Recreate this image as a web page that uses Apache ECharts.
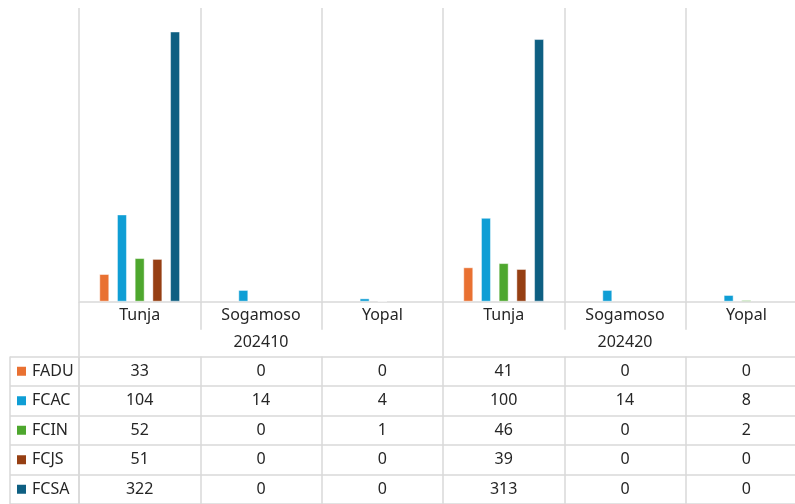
<!DOCTYPE html>
<html>
<head>
<meta charset="utf-8">
<script src="https://cdn.jsdelivr.net/npm/echarts@6/dist/echarts.min.js"></script>
<style>html,body{margin:0;padding:0;background:#fff;}#c{width:795px;height:504px;}</style>
</head>
<body>
<div id="c"></div>
<script>
const cities = ['Tunja', 'Sogamoso', 'Yopal', 'Tunja', 'Sogamoso', 'Yopal'];
const periods = ['202410', '202420'];
const seriesNames = ['FADU', 'FCAC', 'FCIN', 'FCJS', 'FCSA'];
const FADU = [33, 0, 0, 41, 0, 0];
const FCAC = [104, 14, 4, 100, 14, 8];
const FCIN = [52, 0, 1, 46, 0, 2];
const FCJS = [51, 0, 0, 39, 0, 0];
const FCSA = [322, 0, 0, 313, 0, 0];
const seriesValues = [FADU, FCAC, FCIN, FCJS, FCSA];
const colors = ['#E97132', '#0F9ED5', '#4EA72E', '#963F13', '#0E5F82'];

const FONT = 'Noto Sans';
const FS = 16;
const TXT = '#262626';
const LINE = '#D9D9D9';
const LW = 1.5;

const chart = echarts.init(document.getElementById('c'), null, {renderer: 'canvas'});

const rich = {t: {fontFamily: FONT, fontSize: FS, color: TXT, padding: [0, 0, 0, 6]}};
colors.forEach((c, i) => { rich['s' + i] = {width: 9, height: 9, backgroundColor: c}; });

const series = [];
seriesNames.forEach((n, i) => {
  series.push({
    name: n, type: 'bar', xAxisIndex: 0, yAxisIndex: 0,
    data: seriesValues[i].map(v => v === 0 ? {value: v, itemStyle: {borderWidth: 0}} : v),
    barWidth: 10, barGap: '77%',
    itemStyle: {color: colors[i], borderColor: 'rgba(255,255,255,0.45)', borderWidth: 1},
    silent: true
  });
});
seriesNames.forEach((n, i) => {
  series.push({
    name: n + ' tabla', type: 'scatter', xAxisIndex: 2, yAxisIndex: 1,
    data: seriesValues[i].map((v, j) => [j, n, v]),
    symbolSize: 1, itemStyle: {color: 'transparent', opacity: 1}, silent: true,
    label: {show: true, position: 'inside', formatter: p => String(p.value[2]),
            fontFamily: FONT, fontSize: FS, color: TXT, opacity: 1}
  });
});

const gridBase = {outerBoundsMode: 'none', containLabel: false};

chart.setOption({
  animation: false,
  color: colors,
  grid: [
    Object.assign({left: 79, top: 8, width: 728, height: 293.7}, gridBase),
    Object.assign({left: 79, top: 356.5, width: 728, height: 147.5}, gridBase),
    Object.assign({left: 10, top: 356.5, width: 69, height: 147.5}, gridBase)
  ],
  xAxis: [
    {type: 'category', gridIndex: 0, data: cities, position: 'bottom',
     axisLine: {show: true, lineStyle: {color: LINE, width: LW}},
     axisTick: {show: true, length: 28, lineStyle: {color: LINE, width: LW}},
     splitLine: {show: true, lineStyle: {color: LINE, width: LW}},
     axisLabel: {fontFamily: FONT, fontSize: FS, color: TXT, margin: 6, interval: 0}},
    {type: 'category', gridIndex: 0, data: periods, position: 'bottom',
     axisLine: {show: false},
     axisTick: {show: true, length: 54.5, lineStyle: {color: LINE, width: LW}},
     splitLine: {show: false},
     axisLabel: {fontFamily: FONT, fontSize: FS, color: TXT, margin: 33, interval: 0}},
    {type: 'category', gridIndex: 1, data: cities.map((c, i) => i),
     axisLine: {show: false}, axisTick: {show: false}, axisLabel: {show: false},
     splitLine: {show: true, interval: 0, lineStyle: {color: LINE, width: LW}}},
    {type: 'category', gridIndex: 2, data: [''],
     axisLine: {show: false}, axisTick: {show: false}, axisLabel: {show: false},
     splitLine: {show: true, interval: 0, lineStyle: {color: LINE, width: LW}}}
  ],
  yAxis: [
    {type: 'value', gridIndex: 0, min: 0, max: 350, show: false, splitLine: {show: false}},
    {type: 'category', gridIndex: 1, data: seriesNames, inverse: true,
     axisLine: {show: false}, axisTick: {show: false}, axisLabel: {show: false},
     splitLine: {show: true, interval: 0, lineStyle: {color: LINE, width: LW}}},
    {type: 'category', gridIndex: 2, data: seriesNames, inverse: true,
     axisLine: {show: false}, axisTick: {show: false},
     axisLabel: {show: true, inside: true, margin: 7, interval: 0,
                 formatter: (v, i) => '{s' + i + '|}{t|' + v + '}', rich: rich},
     splitLine: {show: true, interval: 0, lineStyle: {color: LINE, width: LW}}}
  ],
  series: series
});
</script>
</body>
</html>
